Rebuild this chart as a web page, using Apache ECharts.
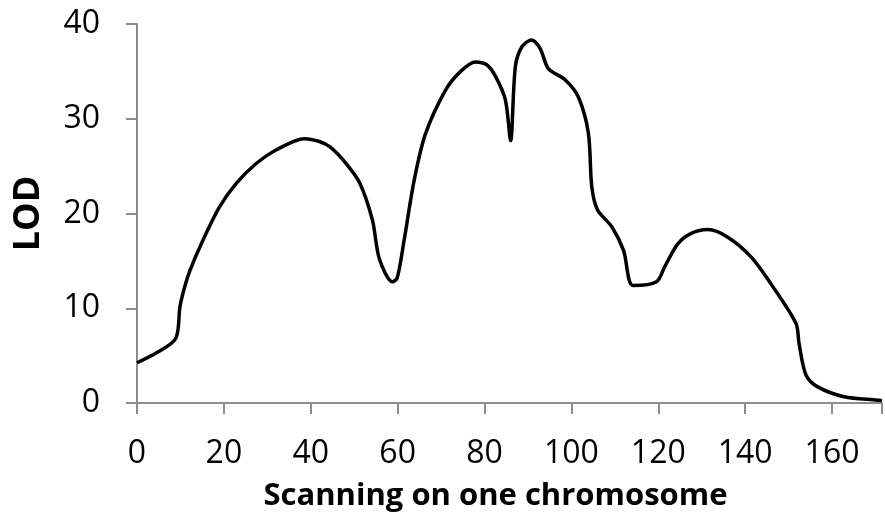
<!DOCTYPE html>
<html>
<head>
<meta charset="utf-8">
<script src="https://cdn.jsdelivr.net/npm/echarts@6/dist/echarts.min.js"></script>
<style>
  html, body { margin: 0; padding: 0; background: #fff; }
  #main { width: 885px; height: 518px; }
</style>
</head>
<body>
<div id="main"></div>
<script>
// position along the chromosome
const positions = [
  0, 4.5, 8.9, 9.9, 11, 12.2, 15.2, 19, 22.9, 27.5, 32, 38.5, 42, 44.5, 48.1,
  51.3, 54.2, 55.8, 58.8, 59.9, 61.5, 63.8, 66.4, 71, 74.5, 77.9, 80.5,
  82.5, 84.8, 86, 87.1, 88.6, 90.8, 92.8, 94.7, 98.6, 101.6, 103.9, 104.7,
  106, 109.3, 112, 114.2, 119.6, 121.5, 124.5, 127.6, 131.4, 136, 141.4,
  145.9, 151.7, 152.4, 154, 156.7, 162.8, 170.4, 171.5
];
// LOD score at each position
const lod = [
  4.25, 5.3, 6.8, 10.2, 12.3, 14.0, 17.2, 20.7, 23.2, 25.3, 26.7, 27.9, 27.6, 27.0, 25.3,
  23.2, 19.3, 15.2, 12.8, 13.2, 17.2, 23.5, 28.4, 33.0, 35.0, 36.0, 35.7,
  34.5, 32.0, 27.7, 35.5, 37.6, 38.3, 37.4, 35.3, 34.1, 32.3, 28.5, 22.8,
  20.4, 18.6, 16.1, 12.4, 12.8, 14.4, 16.8, 17.9, 18.3, 17.5, 15.4,
  12.6, 8.4, 6.3, 2.95, 1.7, 0.66, 0.3, 0.25
];
const xTicks = [0, 20, 40, 60, 80, 100, 120, 140, 160];
const yTicks = [0, 10, 20, 30, 40];

const chart = echarts.init(document.getElementById('main'));
const font = '"Open Sans", "Noto Sans", sans-serif';
const axisGray = '#8c8c8c';

chart.setOption({
  animation: false,
  grid: { left: 137, top: 24, right: 0, bottom: 115 },
  xAxis: {
    type: 'value',
    min: 0,
    max: 171.5,
    interval: 20,
    name: 'Scanning on one chromosome',
    nameLocation: 'middle',
    nameGap: 78,
    nameTextStyle: {
      fontFamily: font, fontWeight: 'bold', fontSize: 31, color: '#000',
      padding: [0, 28, 0, 0]
    },
    axisLine: { show: true, lineStyle: { color: axisGray, width: 2 } },
    axisTick: { show: true, length: 11, lineStyle: { color: axisGray, width: 2 } },
    axisLabel: {
      margin: 35, fontFamily: font, fontSize: 32, color: '#000',
      formatter: v => (xTicks.includes(v) ? String(v) : '')
    },
    splitLine: { show: false }
  },
  yAxis: {
    type: 'value',
    min: 0,
    max: 40,
    interval: 10,
    name: 'LOD',
    nameLocation: 'middle',
    nameGap: 90,
    nameTextStyle: { fontFamily: font, fontWeight: 'bold', fontSize: 36, color: '#000' },
    axisLine: { show: true, lineStyle: { color: axisGray, width: 2 } },
    axisTick: { show: true, length: 11, lineStyle: { color: axisGray, width: 2 } },
    axisLabel: {
      margin: 37, fontFamily: font, fontSize: 32, color: '#000',
      formatter: v => (yTicks.includes(v) ? String(v) : '')
    },
    splitLine: { show: false }
  },
  series: [{
    type: 'line',
    data: positions.map((x, i) => [x, lod[i]]),
    smooth: 0.3,
    showSymbol: false,
    lineStyle: { color: '#000', width: 3.5 }
  }]
});
</script>
</body>
</html>
